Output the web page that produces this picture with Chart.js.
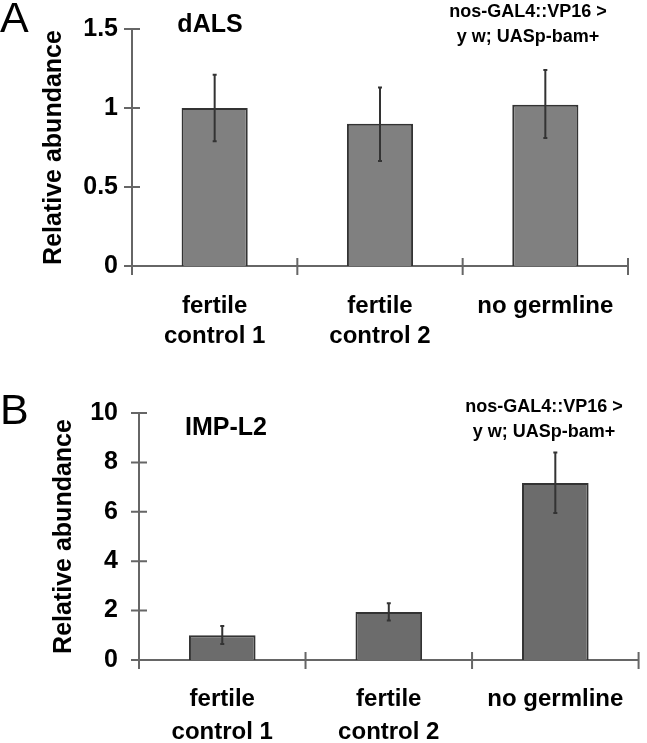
<!DOCTYPE html>
<html>
<head>
<meta charset="utf-8">
<script src="https://cdn.jsdelivr.net/npm/chart.js@4"></script>
<style>
  html, body { margin: 0; padding: 0; background: #fff; }
  body { width: 647px; height: 743px; position: relative; overflow: hidden; }
  canvas { position: absolute; left: 0; }
</style>
</head>
<body>
<canvas id="chartA" width="647" height="365" style="top:0px"></canvas>
<canvas id="chartB" width="647" height="378" style="top:365px"></canvas>
<script>
// categories shared by both panels
const categories = [['fertile', 'control 1'], ['fertile', 'control 2'], 'no germline'];

// panel A: dALS
const dalsValues = [1.00, 0.90, 1.02];
const dalsLow = [0.79, 0.665, 0.81];
const dalsHigh = [1.21, 1.13, 1.24];
const dalsTicks = [0, 0.5, 1, 1.5];

// panel B: IMP-L2
const impValues = [1.0, 1.94, 7.17];
const impLow = [0.65, 1.6, 5.95];
const impHigh = [1.38, 2.3, 8.4];
const impTicks = [0, 2, 4, 6, 8, 10];

const genotype = ['nos-GAL4::VP16 >', 'y w; UASp-bam+'];
const FONT = '"Liberation Sans", Arial, sans-serif';
const AXIS = '#666666';

// error bars + crossing tick marks + panel texts
function extrasPlugin(opts) {
    return {
        id: 'extras',
        afterDatasetsDraw(chart) {
            const ctx = chart.ctx;
            const xs = chart.scales.x;
            const ys = chart.scales.y;
            const area = chart.chartArea;
            ctx.save();

            // error bars
            ctx.strokeStyle = '#333';
            ctx.lineWidth = 2;
            for (let i = 0; i < opts.low.length; i++) {
                const x = xs.getPixelForValue(i);
                const y1 = ys.getPixelForValue(opts.low[i]);
                const y2 = ys.getPixelForValue(opts.high[i]);
                ctx.beginPath();
                ctx.moveTo(x, y1); ctx.lineTo(x, y2);
                ctx.moveTo(x - 2, y1); ctx.lineTo(x + 2, y1);
                ctx.moveTo(x - 2, y2); ctx.lineTo(x + 2, y2);
                ctx.stroke();
            }

            // axis tick marks crossing the axes
            ctx.strokeStyle = AXIS;
            ctx.lineWidth = 2;
            ctx.beginPath();
            for (const t of ys.ticks) {
                const y = ys.getPixelForValue(t.value);
                ctx.moveTo(area.left - 8, y); ctx.lineTo(area.left + 8, y);
            }
            ctx.moveTo(area.left, area.bottom); ctx.lineTo(area.left, area.bottom + 9);
            for (let i = 0; i < opts.low.length; i++) {
                const x = xs.getPixelForValue(i + 0.5);
                ctx.moveTo(x, area.bottom - 8); ctx.lineTo(x, area.bottom + 9);
            }
            ctx.stroke();

            // panel letter, gene name, genotype
            ctx.fillStyle = '#000';
            ctx.textBaseline = 'middle';
            ctx.textAlign = 'left';
            ctx.font = '43px ' + FONT;
            ctx.fillText(opts.letter, 0, opts.letterY);
            ctx.textAlign = 'center';
            ctx.font = 'bold 25px ' + FONT;
            ctx.fillText(opts.gene, opts.geneX, opts.geneY);
            ctx.font = 'bold 18px ' + FONT;
            ctx.fillText(genotype[0], opts.genoX, opts.genoY);
            ctx.fillText(genotype[1], opts.genoX, opts.genoY + 25);
            ctx.restore();
        }
    };
}

function makeChart(id, values, ticks, max, fill, geom, extra) {
    return new Chart(document.getElementById(id), {
        type: 'bar',
        data: {
            labels: categories,
            datasets: [{
                data: values,
                backgroundColor: fill,
                borderColor: '#333',
                borderWidth: 2,
                borderSkipped: 'bottom',
                categoryPercentage: 1,
                barPercentage: 0.4
            }]
        },
        options: {
            responsive: false,
            animation: false,
            devicePixelRatio: 1,
            layout: { padding: { top: geom.top, right: geom.right, left: 0, bottom: 0 } },
            plugins: { legend: { display: false }, tooltip: { enabled: false } },
            scales: {
                x: {
                    offset: true,
                    grid: { display: false, drawTicks: false },
                    border: { display: true, color: AXIS, width: 2 },
                    ticks: {
                        color: '#000',
                        font: { family: FONT, size: 24, weight: 'bold', lineHeight: geom.xLine },
                        padding: geom.xPad,
                        maxRotation: 0,
                        autoSkip: false
                    },
                    afterFit: s => { s.height = geom.xHeight; }
                },
                y: {
                    min: 0,
                    max: max,
                    afterBuildTicks: s => { s.ticks = ticks.map(v => ({ value: v })); },
                    grid: { display: false, drawTicks: false },
                    border: { display: true, color: AXIS, width: 2 },
                    ticks: {
                        color: '#000',
                        font: { family: FONT, size: 25, weight: 'bold' },
                        padding: geom.yPad,
                        callback: v => String(v)
                    },
                    title: {
                        display: true,
                        text: 'Relative abundance',
                        color: '#000',
                        font: { family: FONT, size: 25, weight: 'bold' },
                        padding: { top: geom.titlePad, bottom: 0 }
                    },
                    afterFit: s => { s.width = geom.yWidth; }
                }
            }
        },
        plugins: [extrasPlugin(extra)]
    });
}

makeChart('chartA', dalsValues, dalsTicks, 1.5, '#808080',
    { top: 20, right: 19, xHeight: 99, yWidth: 132, xPad: 25, xLine: 1.25, yPad: 14, titlePad: 39 },
    { low: dalsLow, high: dalsHigh, letter: 'A', letterY: 20, gene: 'dALS', geneX: 210, geneY: 25, genoX: 528, genoY: 12 });

makeChart('chartB', impValues, impTicks, 10, '#6c6c6c',
    { top: 48, right: 4, xHeight: 83, yWidth: 139, xPad: 23, xLine: 1.37, yPad: 21, titlePad: 49 },
    { low: impLow, high: impHigh, letter: 'B', letterY: 47, gene: 'IMP-L2', geneX: 226, geneY: 63, genoX: 544, genoY: 42 });
</script>
</body>
</html>
